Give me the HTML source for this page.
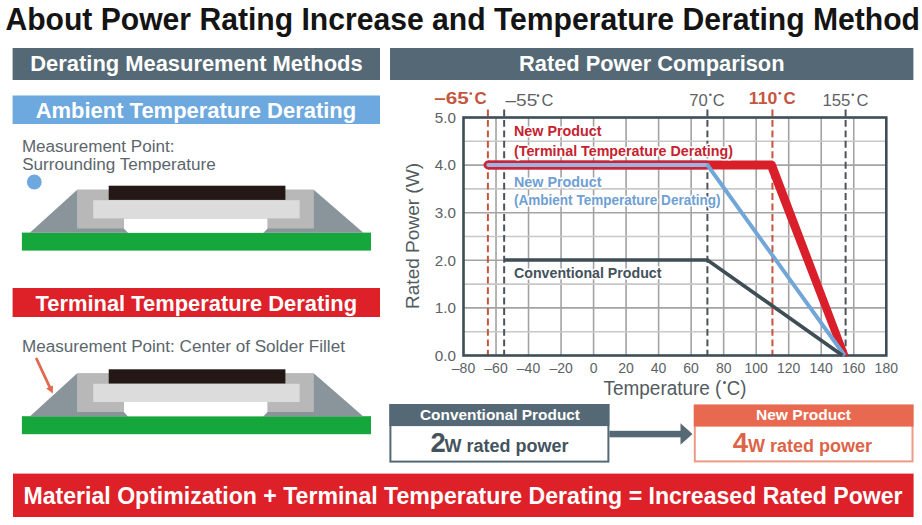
<!DOCTYPE html><html><head><meta charset="utf-8"><style>html,body{margin:0;padding:0;background:#fff;overflow:hidden;}svg{display:block;}text{font-family:"Liberation Sans",sans-serif;}</style></head><body>
<svg width="922" height="525" viewBox="0 0 922 525">
<rect x="0" y="0" width="922" height="525" fill="#fff"/>
<text x="5.4" y="30.2" font-size="31" font-weight="bold" fill="#141414" textLength="914.6" lengthAdjust="spacingAndGlyphs">About Power Rating Increase and Temperature Derating Method</text>
<rect x="12.6" y="48" width="367.4" height="32" fill="#546975"/>
<text x="30.3" y="71" font-size="22" font-weight="bold" fill="#fff" textLength="332.3" lengthAdjust="spacingAndGlyphs">Derating Measurement Methods</text>
<rect x="390" y="48" width="523.4" height="32" fill="#546975"/>
<text x="519" y="71" font-size="22" font-weight="bold" fill="#fff" textLength="265.5" lengthAdjust="spacingAndGlyphs">Rated Power Comparison</text>
<rect x="12.6" y="95.5" width="367.4" height="28.5" fill="#6da9de"/>
<text x="35.7" y="118" font-size="22" font-weight="bold" fill="#fff" textLength="320.5" lengthAdjust="spacingAndGlyphs">Ambient Temperature Derating</text>
<text x="21.9" y="151.8" font-size="16" fill="#5b666c" textLength="152.5" lengthAdjust="spacingAndGlyphs">Measurement Point:</text>
<text x="22.2" y="170.2" font-size="16" fill="#5b666c" textLength="193.5" lengthAdjust="spacingAndGlyphs">Surrounding Temperature</text>
<circle cx="34.3" cy="182" r="7.4" fill="#6da9de"/>
<g transform="translate(0,0)"><rect x="21.9" y="232.6" width="349.1" height="18" fill="#15a63c"/><rect x="77.5" y="189.5" width="235.9" height="39.5" fill="#b8b8b8"/><polygon points="29.8,232.8 77.5,189.5 77.5,228.5 124,228.5 128.2,232.8" fill="#8a949b"/><polygon points="363.4,232.8 313.4,189.5 313.4,228.5 267.4,228.5 263.2,232.8" fill="#8a949b"/><polygon points="124,218.4 267.4,218.4 267.4,228.5 263.2,232.7 128.2,232.7 124,228.5" fill="#fff"/><rect x="93.2" y="200.2" width="206.5" height="18.2" fill="#dcdcdc"/><rect x="108.7" y="185.7" width="176.7" height="14.2" fill="#231815"/></g>
<rect x="12.6" y="288" width="367.4" height="29" fill="#de2029"/>
<text x="35.6" y="310.7" font-size="22" font-weight="bold" fill="#fff" textLength="321.5" lengthAdjust="spacingAndGlyphs">Terminal Temperature Derating</text>
<text x="21.9" y="351.7" font-size="16" fill="#5b666c" textLength="323" lengthAdjust="spacingAndGlyphs">Measurement Point: Center of Solder Fillet</text>
<g transform="translate(0,183.6)"><rect x="21.9" y="232.6" width="349.1" height="18" fill="#15a63c"/><rect x="77.5" y="189.5" width="235.9" height="39.5" fill="#b8b8b8"/><polygon points="29.8,232.8 77.5,189.5 77.5,228.5 124,228.5 128.2,232.8" fill="#8a949b"/><polygon points="363.4,232.8 313.4,189.5 313.4,228.5 267.4,228.5 263.2,232.8" fill="#8a949b"/><polygon points="124,218.4 267.4,218.4 267.4,228.5 263.2,232.7 128.2,232.7 124,228.5" fill="#fff"/><rect x="93.2" y="200.2" width="206.5" height="18.2" fill="#dcdcdc"/><rect x="108.7" y="185.7" width="176.7" height="14.2" fill="#231815"/></g>
<line x1="36.6" y1="359.0" x2="50.2" y2="388.2" stroke="#e0694f" stroke-width="2.8" stroke-linecap="round"/>
<polygon points="52.8,393.6 46.2,388.6 53.0,385.4" fill="#e0694f"/>
<line x1="496.02" y1="117.5" x2="496.02" y2="355.5" stroke="#a2a2a2" stroke-width="1.6"/>
<line x1="528.54" y1="117.5" x2="528.54" y2="355.5" stroke="#a2a2a2" stroke-width="1.6"/>
<line x1="561.06" y1="117.5" x2="561.06" y2="355.5" stroke="#a2a2a2" stroke-width="1.6"/>
<line x1="593.58" y1="117.5" x2="593.58" y2="355.5" stroke="#a2a2a2" stroke-width="1.6"/>
<line x1="626.10" y1="117.5" x2="626.10" y2="355.5" stroke="#a2a2a2" stroke-width="1.6"/>
<line x1="658.62" y1="117.5" x2="658.62" y2="355.5" stroke="#a2a2a2" stroke-width="1.6"/>
<line x1="691.14" y1="117.5" x2="691.14" y2="355.5" stroke="#a2a2a2" stroke-width="1.6"/>
<line x1="723.66" y1="117.5" x2="723.66" y2="355.5" stroke="#a2a2a2" stroke-width="1.6"/>
<line x1="756.18" y1="117.5" x2="756.18" y2="355.5" stroke="#a2a2a2" stroke-width="1.6"/>
<line x1="788.70" y1="117.5" x2="788.70" y2="355.5" stroke="#a2a2a2" stroke-width="1.6"/>
<line x1="821.22" y1="117.5" x2="821.22" y2="355.5" stroke="#a2a2a2" stroke-width="1.6"/>
<line x1="853.74" y1="117.5" x2="853.74" y2="355.5" stroke="#a2a2a2" stroke-width="1.6"/>
<line x1="463.5" y1="331.70" x2="886.3" y2="331.70" stroke="#c8c8c8" stroke-width="1.6"/>
<line x1="463.5" y1="307.90" x2="886.3" y2="307.90" stroke="#a3a3a3" stroke-width="1.6"/>
<line x1="463.5" y1="284.10" x2="886.3" y2="284.10" stroke="#c8c8c8" stroke-width="1.6"/>
<line x1="463.5" y1="260.30" x2="886.3" y2="260.30" stroke="#a3a3a3" stroke-width="1.6"/>
<line x1="463.5" y1="236.50" x2="886.3" y2="236.50" stroke="#c8c8c8" stroke-width="1.6"/>
<line x1="463.5" y1="212.70" x2="886.3" y2="212.70" stroke="#a3a3a3" stroke-width="1.6"/>
<line x1="463.5" y1="188.90" x2="886.3" y2="188.90" stroke="#c8c8c8" stroke-width="1.6"/>
<line x1="463.5" y1="165.10" x2="886.3" y2="165.10" stroke="#a3a3a3" stroke-width="1.6"/>
<line x1="463.5" y1="141.30" x2="886.3" y2="141.30" stroke="#c8c8c8" stroke-width="1.6"/>
<line x1="487.89" y1="109.5" x2="487.89" y2="355.5" stroke="#c4563f" stroke-width="2" stroke-dasharray="6.9 3.55"/>
<line x1="504.15" y1="109.5" x2="504.15" y2="355.5" stroke="#4d5459" stroke-width="2" stroke-dasharray="6.9 3.55"/>
<line x1="707.40" y1="109.5" x2="707.40" y2="355.5" stroke="#4d5459" stroke-width="2" stroke-dasharray="6.9 3.55"/>
<line x1="772.44" y1="109.5" x2="772.44" y2="355.5" stroke="#c4563f" stroke-width="2" stroke-dasharray="6.9 3.55"/>
<line x1="845.61" y1="109.5" x2="845.61" y2="355.5" stroke="#4d5459" stroke-width="2" stroke-dasharray="6.9 3.55"/>
<rect x="463.5" y="117.5" width="422.8" height="238" fill="none" stroke="#3e4d56" stroke-width="2.6"/>
<polygon points="487.9,160.6 772.5,160.6 775.2,162.2 848.6,355.5 840.2,355.5 768.2,169.4 487.9,169.4" fill="#d91f2a"/>
<circle cx="487.9" cy="165" r="4.4" fill="#c5263a"/>
<rect x="487.9" y="160.6" width="219.5" height="8.8" fill="#c5263a"/>
<line x1="488.4" y1="165" x2="707.4" y2="165" stroke="#a2b2df" stroke-width="4.2" stroke-linecap="round"/>
<polyline points="706.4,165 707.4,165 844.6,355.5" fill="none" stroke="#72a6d8" stroke-width="3.9" stroke-linejoin="round"/>
<polyline points="504.1,260 707.4,260 842.6,355.5" fill="none" stroke="#3e4d56" stroke-width="3.6"/>
<text x="514" y="136.3" font-size="14.4" font-weight="bold" fill="#c4232f" stroke="#fff" stroke-width="3" paint-order="stroke" stroke-linejoin="round" textLength="87.5" lengthAdjust="spacingAndGlyphs">New Product</text>
<text x="514" y="155.5" font-size="14.4" font-weight="bold" fill="#c4232f" stroke="#fff" stroke-width="3" paint-order="stroke" stroke-linejoin="round" textLength="219" lengthAdjust="spacingAndGlyphs">(Terminal Temperature Derating)</text>
<text x="514" y="186.7" font-size="14.4" font-weight="bold" fill="#6fa0d4" stroke="#fff" stroke-width="3" paint-order="stroke" stroke-linejoin="round" textLength="87.5" lengthAdjust="spacingAndGlyphs">New Product</text>
<text x="514" y="205" font-size="14.4" font-weight="bold" fill="#6fa0d4" stroke="#fff" stroke-width="3" paint-order="stroke" stroke-linejoin="round" textLength="206.5" lengthAdjust="spacingAndGlyphs">(Ambient Temperature Derating)</text>
<text x="514" y="278" font-size="14" font-weight="bold" fill="#44525b" stroke="#fff" stroke-width="3" paint-order="stroke" stroke-linejoin="round" textLength="147.5" lengthAdjust="spacingAndGlyphs">Conventional Product</text>
<text x="434.8" y="360.7" font-size="14.5" fill="#5d6266" textLength="21.2" lengthAdjust="spacingAndGlyphs">0.0</text>
<text x="434.8" y="313.1" font-size="14.5" fill="#5d6266" textLength="21.2" lengthAdjust="spacingAndGlyphs">1.0</text>
<text x="434.8" y="265.5" font-size="14.5" fill="#5d6266" textLength="21.2" lengthAdjust="spacingAndGlyphs">2.0</text>
<text x="434.8" y="217.9" font-size="14.5" fill="#5d6266" textLength="21.2" lengthAdjust="spacingAndGlyphs">3.0</text>
<text x="434.8" y="170.3" font-size="14.5" fill="#5d6266" textLength="21.2" lengthAdjust="spacingAndGlyphs">4.0</text>
<text x="434.8" y="122.7" font-size="14.5" fill="#5d6266" textLength="21.2" lengthAdjust="spacingAndGlyphs">5.0</text>
<text x="463.5" y="373.3" font-size="14" fill="#5d6266" text-anchor="middle">–80</text>
<text x="496.0" y="373.3" font-size="14" fill="#5d6266" text-anchor="middle">–60</text>
<text x="528.5" y="373.3" font-size="14" fill="#5d6266" text-anchor="middle">–40</text>
<text x="561.1" y="373.3" font-size="14" fill="#5d6266" text-anchor="middle">–20</text>
<text x="593.6" y="373.3" font-size="14" fill="#5d6266" text-anchor="middle">0</text>
<text x="626.1" y="373.3" font-size="14" fill="#5d6266" text-anchor="middle">20</text>
<text x="658.6" y="373.3" font-size="14" fill="#5d6266" text-anchor="middle">40</text>
<text x="691.1" y="373.3" font-size="14" fill="#5d6266" text-anchor="middle">60</text>
<text x="723.7" y="373.3" font-size="14" fill="#5d6266" text-anchor="middle">80</text>
<text x="756.2" y="373.3" font-size="14" fill="#5d6266" text-anchor="middle">100</text>
<text x="788.7" y="373.3" font-size="14" fill="#5d6266" text-anchor="middle">120</text>
<text x="821.2" y="373.3" font-size="14" fill="#5d6266" text-anchor="middle">140</text>
<text x="853.7" y="373.3" font-size="14" fill="#5d6266" text-anchor="middle">160</text>
<text x="886.3" y="373.3" font-size="14" fill="#5d6266" text-anchor="middle">180</text>
<text x="434.2" y="104.3" font-size="16.8" font-weight="bold" fill="#c4563f" textLength="34.5" lengthAdjust="spacingAndGlyphs">–65</text><text x="474.4" y="104.3" font-size="16.8" font-weight="bold" fill="#c4563f">C</text><circle cx="470.8" cy="93.6" r="1.4" fill="#c4563f"/>
<text x="505.5" y="106" font-size="16.5" font-weight="normal" fill="#5d6266" textLength="31.8" lengthAdjust="spacingAndGlyphs">–55</text><text x="541.5" y="106" font-size="16.5" font-weight="normal" fill="#5d6266">C</text><circle cx="538.0" cy="95.6" r="1.3" fill="#5d6266"/>
<text x="689.2" y="105.8" font-size="16.5" font-weight="normal" fill="#5d6266" textLength="18.5" lengthAdjust="spacingAndGlyphs">70</text><text x="712.8" y="105.8" font-size="16.5" font-weight="normal" fill="#5d6266">C</text><circle cx="710.4" cy="94.8" r="1.3" fill="#5d6266"/>
<text x="748.8" y="104" font-size="16.8" font-weight="bold" fill="#c4563f" textLength="28.5" lengthAdjust="spacingAndGlyphs">110</text><text x="783.6" y="104" font-size="16.8" font-weight="bold" fill="#c4563f">C</text><circle cx="779.8" cy="93.3" r="1.4" fill="#c4563f"/>
<text x="822.4" y="105.8" font-size="16.5" font-weight="normal" fill="#5d6266" textLength="28.0" lengthAdjust="spacingAndGlyphs">155</text><text x="856.6" y="105.8" font-size="16.5" font-weight="normal" fill="#5d6266">C</text><circle cx="852.8" cy="94.8" r="1.3" fill="#5d6266"/>
<text transform="translate(418.9,309) rotate(-90)" font-size="18.5" fill="#525b60" textLength="146" lengthAdjust="spacingAndGlyphs">Rated Power (W)</text>
<text x="603.6" y="395.3" font-size="19.5" fill="#525b60" textLength="117.8" lengthAdjust="spacingAndGlyphs">Temperature (</text>
<circle cx="724.5" cy="382.6" r="1.5" fill="#525b60"/>
<text x="726.8" y="395.3" font-size="19.5" fill="#525b60" textLength="19.5" lengthAdjust="spacingAndGlyphs">C)</text>
<rect x="390.4" y="405.1" width="218" height="56.5" fill="#fff" stroke="#546975" stroke-width="2"/>
<rect x="389.4" y="404.1" width="220" height="22" fill="#546975"/>
<text x="420" y="420" font-size="15" font-weight="bold" fill="#fff" textLength="160" lengthAdjust="spacingAndGlyphs">Conventional Product</text>
<text x="430.4" y="452.2" font-size="27.5" font-weight="bold" fill="#44535c">2</text>
<text x="444.6" y="452.2" font-size="18" font-weight="bold" fill="#44535c" textLength="124" lengthAdjust="spacingAndGlyphs">W rated power</text>
<rect x="609.4" y="430.8" width="72" height="6.5" fill="#546975"/>
<polygon points="680.5,423.2 692.5,434 680.5,444.8" fill="#546975"/>
<rect x="694.8" y="405.6" width="217.7" height="55.8" fill="#fff" stroke="#ec9a86" stroke-width="2"/>
<rect x="693.8" y="404.6" width="219.7" height="22" fill="#e8694f"/>
<text x="756" y="420.2" font-size="15" font-weight="bold" fill="#fff" textLength="95" lengthAdjust="spacingAndGlyphs">New Product</text>
<text x="732.8" y="452.2" font-size="27.5" font-weight="bold" fill="#dc6448">4</text>
<text x="748.0" y="452.2" font-size="18" font-weight="bold" fill="#dc6448" textLength="124" lengthAdjust="spacingAndGlyphs">W rated power</text>
<rect x="13" y="473.6" width="900.6" height="43.4" fill="#de2029"/>
<text x="23.5" y="503.6" font-size="23.5" font-weight="bold" fill="#fff" textLength="879" lengthAdjust="spacingAndGlyphs">Material Optimization + Terminal Temperature Derating = Increased Rated Power</text>
</svg></body></html>
